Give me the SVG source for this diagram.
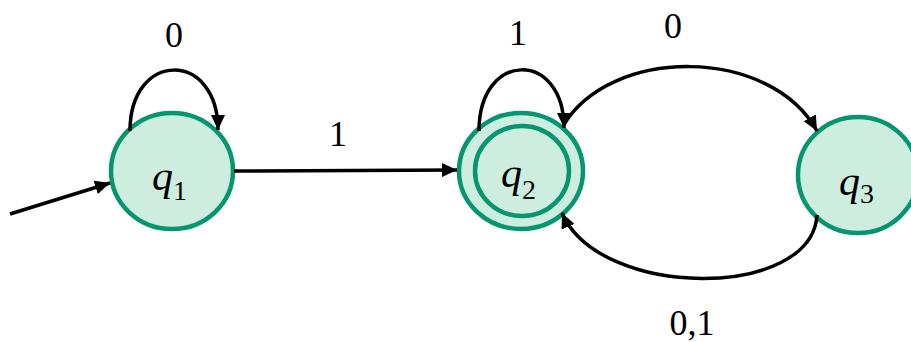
<svg xmlns="http://www.w3.org/2000/svg" width="911" height="342" viewBox="0 0 911 342">
<style>
.state{fill:#cdeede;stroke:#05966f;stroke-width:4.5}
.edge{fill:none;stroke:#000;stroke-width:3.5;marker-end:url(#arr)}
text{font-family:'Liberation Serif','Times New Roman',serif;fill:#000}
.lbl{font-size:36px;text-anchor:middle}
.nm{font-size:42px;font-style:italic}
.sub{font-size:28px;font-style:normal}
</style>
<defs>
<marker id="arr" markerUnits="userSpaceOnUse" markerWidth="16" markerHeight="14" refX="15" refY="7" orient="auto">
<path d="M0,0 L15,7 L0,14 Z" fill="#000"/>
</marker>
</defs>
<rect width="911" height="342" fill="#fff"/>
<g id="q1">
<ellipse class="state" cx="172" cy="171" rx="61" ry="58"/>
<text class="nm" x="152" y="190">q<tspan class="sub" dy="10">1</tspan></text>
</g>
<g id="q2">
<ellipse class="state" cx="521" cy="171" rx="62" ry="58"/>
<ellipse class="state" cx="522" cy="171" rx="47" ry="45"/>
<text class="nm" x="501" y="187">q<tspan class="sub" dy="12">2</tspan></text>
</g>
<g id="q3">
<ellipse class="state" cx="858" cy="175" rx="60" ry="58"/>
<text class="nm" x="839" y="195">q<tspan class="sub" dy="8">3</tspan></text>
</g>
<g id="connectors">
<path class="edge" d="M10,214 L110,183"/>
<path class="edge" d="M130,131 C130,50 218,50 218,130"/>
<path class="edge" d="M234,171 L457,170"/>
<path class="edge" d="M479,131 C479,50 564,50 564,128"/>
<path class="edge" d="M563,126 C610,46 770,46 817,131"/>
<path class="edge" d="M817,215 C812,300 600,300 562,213"/>
<text class="lbl" x="174" y="47">0</text>
<text class="lbl" x="338" y="146">1</text>
<text class="lbl" x="518" y="45">1</text>
<text class="lbl" x="673" y="38">0</text>
<text class="lbl" x="692" y="335">0,1</text>
</g>
</svg>
